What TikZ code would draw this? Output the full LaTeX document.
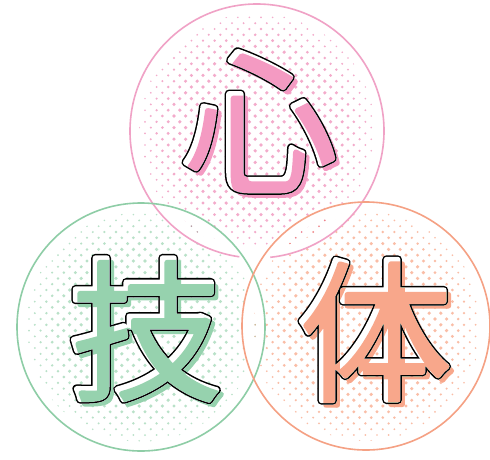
\documentclass[tikz,border=0pt]{standalone}
\usepackage{fontspec}
\newfontfamily\jpfont{Noto Sans CJK JP}
\definecolor{pinkL}{HTML}{F0A2C6}
\definecolor{pinkG}{HTML}{F49AC2}
\definecolor{pinkD}{HTML}{F3ABCB}
\definecolor{greenL}{HTML}{8ECDA6}
\definecolor{greenG}{HTML}{96D2AE}
\definecolor{greenD}{HTML}{B9E1C8}
\definecolor{orangeL}{HTML}{F5A184}
\definecolor{orangeG}{HTML}{F8A78B}
\definecolor{orangeD}{HTML}{FABDA6}
\newcommand\strk[2]{\special{pdf:literal direct 2 Tr #1 w 1 j 1 J}#2\special{pdf:literal direct 0 Tr}}
\newcommand\dotfield[4]{%
  \pgfmathtruncatemacro\kmin{floor((#2-#3)/5.8)}%
  \pgfmathtruncatemacro\kmax{ceil((#2+#3)/5.8)}%
  \pgfmathtruncatemacro\mmin{floor((#1-#3)/11.6)-1}%
  \pgfmathtruncatemacro\mmax{ceil((#1+#3)/11.6)}%
  \foreach \k in {\kmin,...,\kmax}{%
    \foreach \m in {\mmin,...,\mmax}{%
      \pgfmathsetmacro\px{\m*11.6+mod(\k,2)*5.8}%
      \pgfmathsetmacro\py{\k*5.8}%
      \pgfmathsetmacro\dd{veclen(\px-#1,\py-#2)}%
      \ifdim\dd pt<#3pt
        \pgfmathsetmacro\rr{min(1.8,1.8*(0.45+0.55*(#3-\dd)/35))}%
        \fill[#4] (\px,\py) circle[radius=\rr];
      \fi
    }}}
\tikzset{
  glyph/.style={inner sep=0pt, font=\jpfont\fontsize{154}{154}\selectfont},
  ring/.style={line width=1.6pt}
}
\begin{document}
\begin{tikzpicture}[x=1pt,y=-1pt]
\useasboundingbox (0,0) rectangle (490,459);
\fill[white] (0,0) rectangle (490,459);
\coordinate (pc) at (257,131);
\coordinate (gc) at (141,327);
\coordinate (oc) at (366,326);
% dots
\begin{scope}[blend mode=multiply]
\dotfield{257}{131}{118}{pinkD}
\dotfield{141}{327}{115}{greenD}
\dotfield{366}{326}{115}{orangeD}
\end{scope}
% white rings
\fill[white,even odd rule] (pc) circle[radius=127] (pc) circle[radius=118];
\fill[white,even odd rule] (gc) circle[radius=124] (gc) circle[radius=115];
\fill[white,even odd rule] (oc) circle[radius=124] (oc) circle[radius=115];
% outlines
\draw[ring,pinkL] (pc) ++(98:127) arc[start angle=98,end angle=444,radius=127];
\draw[ring,greenL] (gc) circle[radius=124];
\draw[ring,orangeL] (oc) circle[radius=124];
% glyphs
\foreach \ch/\nm/\x/\y/\col in {心/xin/259/121/pinkG, 技/ji/145/329/greenG, 体/ti/374/330/orangeG}{
  \node[glyph,text=black] (\nm-b) at (\x,\y) {\strk{8.5}{\ch}};
  \node[glyph,text=white] (\nm-w) at (\x,\y) {\strk{5.5}{\ch}};
  \begin{scope}[blend mode=darken]
  \node[glyph,text=\col] (\nm-c) at (\x+4.5,\y+4.5) {\strk{5.5}{\ch}};
  \end{scope}
}
\end{tikzpicture}
\end{document}
